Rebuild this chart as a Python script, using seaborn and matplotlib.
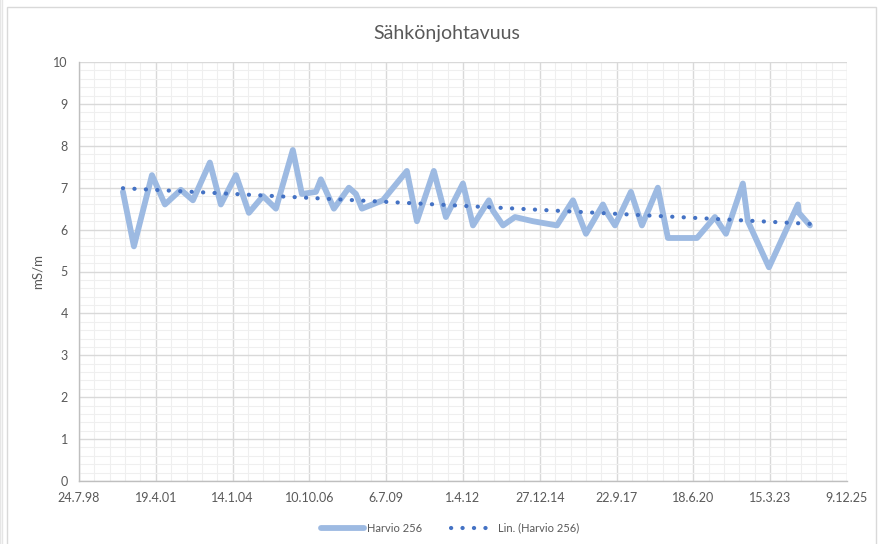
import numpy as np
import pandas as pd
import matplotlib
matplotlib.use("Agg")
import matplotlib.pyplot as plt
import matplotlib.dates as mdates
from matplotlib.ticker import FuncFormatter, MultipleLocator
from matplotlib.patches import Rectangle
import seaborn as sns

# ---- data ----
dates = [
    "2000-02-16", "2000-07-08", "2001-02-28", "2001-08-16", "2002-03-11", "2002-08-15",
    "2003-03-24", "2003-08-14", "2004-02-27", "2004-08-13", "2005-02-13", "2005-07-31",
    "2006-03-08", "2006-07-04", "2007-01-03", "2007-03-08", "2007-08-25", "2008-03-07",
    "2008-06-07", "2008-08-24", "2009-05-24", "2010-04-01", "2010-08-10", "2011-03-18",
    "2011-08-22", "2012-03-31", "2012-08-09", "2013-03-04", "2013-04-26", "2013-09-04",
    "2014-02-07", "2014-09-29", "2015-08-07", "2016-03-03", "2016-08-19", "2017-03-28",
    "2017-05-19", "2017-09-01", "2018-03-27", "2018-08-18", "2019-03-13", "2019-07-22",
    "2020-08-04", "2021-03-25", "2021-08-16", "2022-03-24", "2022-05-28", "2023-02-27",
    "2024-03-10", "2024-03-22", "2024-08-13",
]
values = [
    6.9, 5.6, 7.3, 6.6, 6.95, 6.7,
    7.6, 6.6, 7.3, 6.4, 6.8, 6.5,
    7.9, 6.85, 6.9, 7.2, 6.5, 7.0,
    6.85, 6.5, 6.7, 7.4, 6.2, 7.4,
    6.3, 7.1, 6.1, 6.7, 6.45, 6.1,
    6.3, 6.2, 6.1, 6.7, 5.9, 6.6,
    6.4, 6.1, 6.9, 6.1, 7.0, 5.8,
    5.8, 6.3, 5.9, 7.1, 6.2, 5.1,
    6.6, 6.4, 6.1,
]
series_name = "Harvio 256"
trend_name = "Lin. (Harvio 256)"
title = "Sähkönjohtavuus"
y_label = "mS/m"
x_start = "1998-07-24"
x_end = "2025-12-09"

# ---- styling ----
sns.set_style("white")
plt.rcParams["font.family"] = ["Lato", "DejaVu Sans"]

df = pd.DataFrame({"date": pd.to_datetime(dates), "value": values})
xnum = mdates.date2num(df["date"])
coef = np.polyfit(xnum, df["value"], 1)
trend_df = pd.DataFrame({"date": df["date"], "value": np.polyval(coef, xnum)})

fig = plt.figure(figsize=(8.85, 5.44), dpi=100)
ax = fig.add_axes([79 / 885, 1 - 481 / 544, (847 - 79) / 885, (481 - 62) / 544])

# chart frame
fig.patches.append(Rectangle((7 / 885, -0.01), (876 - 7) / 885, 1 - 7 / 544 + 0.01,
                             transform=fig.transFigure, fill=False,
                             edgecolor="#d9d9d9", linewidth=1.0))
fig.patches.append(Rectangle((0.0, -0.01), 2 / 885, 1.02, transform=fig.transFigure,
                             fill=False, edgecolor="#e6e6e6", linewidth=1.0))

sns.lineplot(data=df, x="date", y="value", ax=ax, color="#9dbae2", linewidth=4.2,
             label=series_name)
sns.lineplot(data=trend_df, x="date", y="value", ax=ax, color="#4472c4", linewidth=3.0,
             label=trend_name)
main_line, trend_line = ax.lines[0], ax.lines[1]
main_line.set_solid_joinstyle("round")
trend_line.set_dashes([0.05, 2.7])
trend_line.set_dash_capstyle("round")

x0 = mdates.date2num(pd.Timestamp(x_start))
x1 = mdates.date2num(pd.Timestamp(x_end))
ax.set_xlim(x0, x1)
ax.set_ylim(0, 10)
ax.set_xticks(np.arange(x0, x1 + 1, 1000))
ax.set_xticks(np.arange(x0, x1 + 1, 200), minor=True)
ax.yaxis.set_major_locator(MultipleLocator(1))
ax.yaxis.set_minor_locator(MultipleLocator(0.2))


def fmt(v, pos):
    d = mdates.num2date(v)
    return f"{d.day}.{d.month}.{d.strftime('%y')}"


ax.xaxis.set_major_formatter(FuncFormatter(fmt))
ax.yaxis.set_major_formatter(FuncFormatter(lambda v, p: f"{int(round(v))}"))

ax.grid(which="major", color="#d9d9d9", linewidth=1.0)
ax.grid(which="minor", color="#efefef", linewidth=0.8)
ax.set_axisbelow(True)
for s in ["top", "right"]:
    ax.spines[s].set_visible(False)
for s in ["left", "bottom"]:
    ax.spines[s].set_color("#bfbfbf")
    ax.spines[s].set_linewidth(1.0)
ax.tick_params(axis="both", which="major", direction="out", length=4, width=1.0,
               color="#bfbfbf", labelsize=9, labelcolor="#595959", pad=4)
ax.tick_params(axis="both", which="minor", length=0)

ax.set_xlabel("")
ax.set_ylabel(y_label, fontsize=9.5, color="#595959", labelpad=7)
fig.text(447 / 885, 1 - 33 / 544, title, ha="center", va="center",
         fontsize=14, color="#595959")

ax.get_legend().remove()
handles, labels = ax.get_legend_handles_labels()
fig.legend(handles, labels, loc="center", bbox_to_anchor=(450 / 885, 1 - 528 / 544),
           ncol=2, frameon=False, fontsize=8, labelcolor="#595959",
           handlelength=3.9, columnspacing=2.6, handletextpad=0.3)

fig.savefig("out.png", dpi=100)
